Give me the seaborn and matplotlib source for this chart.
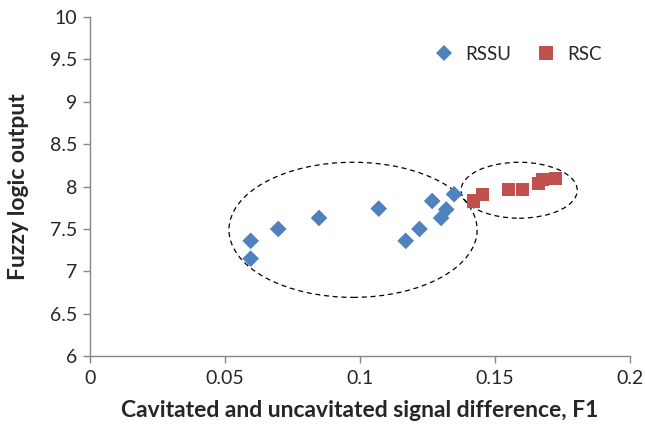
import numpy as np
import pandas as pd
import seaborn as sns
import matplotlib.pyplot as plt
from matplotlib.patches import Ellipse

# data
rssu_x = [0.0595, 0.0595, 0.0697, 0.0848, 0.1069, 0.1169, 0.1220, 0.1267, 0.1300, 0.1319, 0.1348]
rssu_y = [7.36, 7.15, 7.50, 7.63, 7.74, 7.36, 7.50, 7.83, 7.63, 7.73, 7.91]
rsc_x = [0.1420, 0.1452, 0.1550, 0.1600, 0.1660, 0.1674, 0.1722]
rsc_y = [7.83, 7.91, 7.97, 7.97, 8.04, 8.08, 8.10]

x_ticks = [0, 0.05, 0.1, 0.15, 0.2]
x_labels = ["0", "0.05", "0.1", "0.15", "0.2"]
y_ticks = [6, 6.5, 7, 7.5, 8, 8.5, 9, 9.5, 10]
y_labels = ["6", "6.5", "7", "7.5", "8", "8.5", "9", "9.5", "10"]

df = pd.concat([
    pd.DataFrame({"x": rssu_x, "y": rssu_y, "group": "RSSU"}),
    pd.DataFrame({"x": rsc_x, "y": rsc_y, "group": "RSC"}),
])

sns.set_style("white")
plt.rcParams['font.family'] = ['Lato', 'DejaVu Sans']

fig = plt.figure(figsize=(6.45, 4.26), dpi=100)
ax = fig.add_axes([0.1395, 0.164, 0.8375, 0.796])

sns.scatterplot(data=df, x="x", y="y", hue="group", style="group", size="group",
                palette={"RSSU": "#4F81BD", "RSC": "#C0504D"},
                markers={"RSSU": "D", "RSC": "s"},
                sizes={"RSSU": 72, "RSC": 88},
                linewidth=0, ax=ax, zorder=3)

# dashed ellipses around the two groups
ax.add_patch(Ellipse((0.0974, 7.49), 0.0919, 1.594, fill=False,
                     ls=(0, (4, 3)), lw=0.9, ec="black", zorder=2))
ax.add_patch(Ellipse((0.1589, 7.957), 0.043, 0.66, fill=False,
                     ls=(0, (4, 3)), lw=0.9, ec="black", zorder=2))

ax.set_xlim(0, 0.2)
ax.set_ylim(6, 10)
ax.set_xticks(x_ticks)
ax.set_xticklabels(x_labels)
ax.set_yticks(y_ticks)
ax.set_yticklabels(y_labels)
ax.tick_params(axis="both", labelsize=14, direction="out", length=5,
               color="#868686", width=1, bottom=True, left=True, pad=4)
ax.tick_params(axis="x", pad=5)
for side in ["top", "right"]:
    ax.spines[side].set_visible(False)
for side in ["left", "bottom"]:
    ax.spines[side].set_color("#868686")
    ax.spines[side].set_linewidth(1)

ax.set_xlabel("Cavitated and uncavitated signal difference, F1",
              fontsize=16.5, fontweight="bold", labelpad=9)
ax.set_ylabel("Fuzzy logic output", fontsize=16.5, fontweight="bold", labelpad=15)

handles, labels = ax.get_legend_handles_labels()
ax.legend(handles, labels, loc="upper right", ncol=2, frameon=False,
          fontsize=13.5, bbox_to_anchor=(0.978, 0.965), handletextpad=0.1,
          columnspacing=0.9, markerscale=1.0)

fig.savefig("out.png", dpi=100)
